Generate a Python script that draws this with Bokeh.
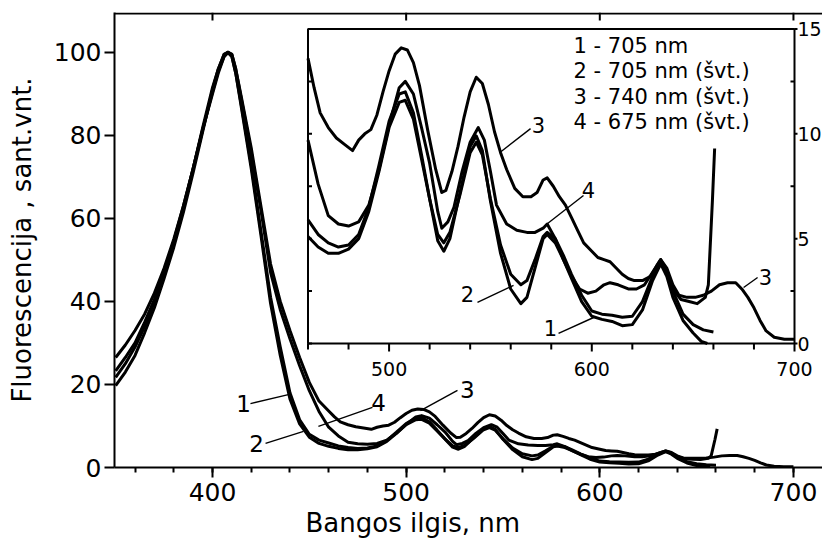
from bokeh.plotting import figure
from bokeh.models import Range1d, FixedTicker, Title
from bokeh.core.properties import value
from bokeh.embed import file_html
from bokeh.resources import INLINE

# ---------------- data ----------------
wl_1 = [350, 355, 360, 365, 370, 375, 380, 385, 390, 395, 400, 403, 406, 408, 410, 412, 415, 420, 425, 430, 435, 440, 445, 450, 455,
        460, 465, 470, 475, 480, 485, 490, 495, 500, 505, 508, 512, 516, 520, 524, 527, 530, 535, 540, 543, 546, 550, 555, 560, 565,
        568, 572, 576, 578, 582, 586, 590, 595, 600, 605, 610, 615, 620, 625, 630, 634, 637, 640, 645, 650, 654, 657]
fl_1 = [21.7, 25, 29, 34, 40, 46.5, 54, 62.5, 72, 82, 91.5, 96, 99.5, 100, 99, 95, 87, 73, 57, 41, 29, 18, 11.5, 8, 6.6,
        5.9, 5.2, 4.8, 4.6, 4.7, 5.2, 6.5, 8.5, 10.6, 11.9, 12.0, 11.0, 9.0, 6.9, 4.9, 4.4, 5.0, 7.2, 9.4, 9.9, 9.2, 6.8, 4.3, 2.6, 1.9,
        2.2, 3.6, 5.0, 5.2, 4.8, 4.0, 3.1, 2.0, 1.3, 1.15, 1.05, 0.85, 0.9, 1.6, 3.0, 3.8, 3.2, 2.2, 1.1, 0.5, 0.1, 0.0]

wl_2 = [350, 355, 360, 365, 370, 375, 380, 385, 390, 395, 400, 403, 406, 408, 410, 412, 415, 420, 425, 430, 435, 440, 445, 450, 455,
        460, 465, 470, 475, 480, 485, 490, 495, 500, 505, 508, 512, 516, 520, 524, 527, 530, 535, 540, 543, 546, 550, 555, 560, 565,
        568, 572, 576, 578, 582, 586, 590, 595, 600, 605, 610, 615, 620, 625, 630, 634, 637, 640, 645, 650, 655, 660]
fl_2 = [19.7, 23, 27, 32.5, 38.5, 45.5, 53, 61.5, 71, 81, 91, 96, 99.5, 100, 99, 95, 86.5, 72, 56, 39.5, 27, 16.5, 10.5, 7.3, 5.8,
        5.1, 4.6, 4.3, 4.3, 4.5, 5.0, 6.3, 8.2, 10.3, 11.5, 11.6, 10.7, 8.8, 6.9, 5.2, 4.8, 5.3, 7.1, 9.1, 9.6, 9.0, 6.9, 4.7, 3.3, 2.8,
        3.0, 4.0, 5.1, 5.3, 5.0, 4.2, 3.3, 2.3, 1.55, 1.4, 1.35, 1.25, 1.3, 2.0, 3.2, 3.9, 3.4, 2.5, 1.4, 0.9, 0.65, 0.55]

wl_3 = [350, 355, 360, 365, 370, 375, 380, 385, 390, 395, 400, 403, 406, 408, 410, 412, 415, 420, 425, 430, 435, 440, 445, 450, 455,
        460, 463, 466, 470, 474, 478, 482, 485, 488, 491, 494, 497, 500, 503, 506, 509, 512, 515, 519, 523, 526, 528, 531, 534, 537,
        540, 543, 546, 549, 552, 555, 558, 562, 566, 570, 573, 576, 578, 581, 584, 587, 590, 593, 596, 600, 603, 606, 609, 612, 615,
        618, 621, 625, 629, 632, 634, 637, 640, 643, 647, 651, 655, 659, 663, 667, 671, 674, 677, 680, 683, 686, 690, 695, 700]
fl_3 = [26.5, 29.5, 33, 37, 42, 48, 55, 63, 72, 81.5, 90, 95, 99, 100, 99.5, 96, 89, 77, 63, 49, 40, 33, 26.5, 20.5, 16,
        13.6, 12.2, 11.0, 10.3, 9.8, 9.5, 9.2, 9.7, 10.0, 10.2, 10.9, 12.0, 13.0, 13.8, 14.1, 14.0, 13.4, 12.3, 10.2, 8.3, 7.2, 7.3, 8.2, 9.4, 10.8,
        12.0, 12.7, 12.4, 11.4, 10.1, 9.1, 8.3, 7.4, 7.0, 7.0, 7.2, 7.8, 7.9, 7.5, 7.0, 6.6, 6.0, 5.4, 4.8, 4.4, 4.1, 4.0, 3.9, 3.6, 3.3,
        3.1, 3.0, 3.0, 3.2, 3.7, 4.0, 3.6, 2.8, 2.3, 2.2, 2.2, 2.3, 2.5, 2.8, 2.9, 2.9, 2.6, 2.2, 1.7, 1.1, 0.6, 0.3, 0.2, 0.2]

wl_4 = [350, 355, 360, 365, 370, 375, 380, 385, 390, 395, 400, 403, 406, 408, 410, 412, 415, 420, 425, 430, 435, 440, 445, 450, 455,
        460, 465, 470, 475, 480, 485, 490, 495, 500, 505, 508, 512, 516, 520, 524, 526, 529, 532, 536, 540, 544, 547, 550, 553, 558,
        563, 568, 572, 576, 578, 582, 586, 590, 594, 598, 602, 606, 609, 613, 618, 622, 626, 630, 634, 637, 640, 644, 648, 652, 656,
        657.5, 659.5, 660.6]
fl_4 = [23.3, 26.5, 30, 35, 40.5, 47, 54.5, 63, 72, 81.5, 90.5, 95.5, 99, 100, 99.5, 96, 88.5, 76, 62, 47, 38, 31, 24.5, 18.5, 13.5,
        9.7, 7.6, 6.1, 5.7, 5.6, 5.8, 6.6, 8.3, 10.4, 12.2, 12.5, 11.9, 10.3, 8.6, 6.3, 5.5, 5.8, 6.5, 8.2, 9.6, 10.3, 9.7, 8.2, 6.6, 5.7,
        5.4, 5.3, 5.3, 5.5, 5.7, 5.0, 4.0, 3.2, 2.6, 2.4, 2.5, 2.8, 2.9, 2.8, 2.6, 2.6, 2.8, 3.4, 4.0, 3.5, 2.6, 2.1, 2.0, 1.9, 2.2,
        2.8, 6.8, 9.3]

curves = [(wl_1, fl_1), (wl_2, fl_2), (wl_3, fl_3), (wl_4, fl_4)]

legend_lines = ["1 - 705 nm", "2 - 705 nm (švt.)", "3 - 740 nm (švt.)", "4 - 675 nm (švt.)"]

main_xticks = [400, 500, 600, 700]
main_xminor = list(range(360, 711, 20))
main_yticks = [0, 20, 40, 60, 80, 100]

inset_xticks = list(range(460, 701, 20))
inset_xlabels = [500, 600, 700]
inset_yticks = [0, 2.5, 5, 7.5, 10, 12.5, 15]
inset_ylabels = [0, 5, 10, 15]

# curve labels: (text, label x, label y, leader x0, y0, x1, y1)
main_marks = [("1", 416.0, 15.4, 419.6, 15.4, 439.7, 17.6),
              ("2", 422.7, 5.8, 427.4, 5.8, 447.0, 8.7),
              ("4", 485.7, 15.7, 482.6, 14.5, 454.7, 9.9),
              ("3", 531.6, 18.8, 526.5, 18.6, 507.4, 13.7)]
inset_marks = [("3", 573.7, 10.4, 569.8, 10.25, 554.5, 9.1),
               ("4", 598.4, 7.3, 595.9, 7.06, 578.2, 5.72),
               ("2", 538.7, 2.38, 543.6, 1.96, 561.4, 2.77),
               ("1", 579.6, 0.76, 583.6, 0.48, 600.9, 1.24),
               ("3", 685.7, 3.15, 681.8, 3.15, 674.9, 2.67)]

# ---------------- layout (canvas pixels) ----------------
W, H = 822, 553
FL, FR, FT, FB = 114, 822, 12, 467          # main frame
IL, IR, IT, IB = 307.5, 794.0, 28.5, 343.0  # inset box
IX0, IX1, IY0, IY1 = 460, 700, 0, 15        # inset data window
XR = (349.4, 715.0)
YR = (0, 109.6)
FONT = "DejaVu Sans"
LW = 3.0

p = figure(width=W, height=H, x_range=Range1d(*XR), y_range=Range1d(*YR),
           output_backend="svg", toolbar_location=None,
           min_border_left=FL, min_border_right=W - FR, min_border_top=FT, min_border_bottom=H - FB)
p.title.visible = False
p.outline_line_color = None
p.grid.visible = False
p.background_fill_color = "white"
p.border_fill_color = "white"

# main axes
xa = p.xaxis[0]
xa.ticker = FixedTicker(ticks=main_xticks, minor_ticks=main_xminor)
ya = p.yaxis[0]
ya.ticker = FixedTicker(ticks=main_yticks, minor_ticks=[])
for ax in (xa, ya):
    ax.axis_line_width = 2
    ax.axis_line_color = "black"
    ax.major_tick_line_width = 2
    ax.minor_tick_line_width = 2
    ax.major_tick_line_color = "black"
    ax.minor_tick_line_color = "black"
    ax.major_tick_in = 0
    ax.major_tick_out = 10
    ax.minor_tick_in = 0
    ax.minor_tick_out = 5
    ax.major_label_text_font = FONT
    ax.major_label_text_font_size = "25px"
    ax.major_label_text_color = "black"
ya.minor_tick_out = 0
xa.major_label_standoff = 5
ya.major_label_standoff = 3
ya.axis_label = "Fluorescencija , sant.vnt."
ya.axis_label_text_font = FONT
ya.axis_label_text_font_size = "26px"
ya.axis_label_text_font_style = "normal"
ya.axis_label_text_color = "black"
ya.axis_label_standoff = 14

xtitle = Title(text="Bangos ilgis, nm", align="left", offset=191, standoff=5,
               text_font=FONT, text_font_size="26px", text_font_style="normal", text_color="black")
p.add_layout(xtitle, "below")

# top frame line with inward ticks
pxy = (YR[1] - YR[0]) / (FB - FT)
p.segment(x0=[XR[0]], y0=[YR[1] - pxy], x1=[XR[1]], y1=[YR[1] - pxy], line_color="black", line_width=2)
p.segment(x0=main_xticks, y0=[YR[1]] * 4, x1=main_xticks, y1=[YR[1] - 8 * pxy] * 4,
          line_color="black", line_width=2)

# main curves
for wl, fl in curves:
    p.line(wl, fl, line_color="black", line_width=LW, line_join="round")

for t, lx, ly, x0, y0, x1, y1 in main_marks:
    p.segment(x0=[x0], y0=[y0], x1=[x1], y1=[y1], line_color="black", line_width=1.4)
    p.text(x=[lx], y=[ly], text=[t], text_font=value(FONT), text_font_size="23px",
           text_align="center", text_baseline="middle", text_color="black")

# ---------------- inset (drawn through extra ranges) ----------------
sx = (IX1 - IX0) / (IR - IL)   # data units per px
sy = (IY1 - IY0) / (IB - IT)
p.extra_x_ranges = {"ix": Range1d(IX0 - (IL - FL) * sx, IX1 + (FR - IR) * sx)}
p.extra_y_ranges = {"iy": Range1d(IY0 - (FB - IB) * sy, IY1 + (IT - FT) * sy)}
kw = dict(x_range_name="ix", y_range_name="iy")

p.quad(left=[IX0], right=[IX1], bottom=[IY0], top=[IY1], fill_color="white",
       line_color="black", line_width=2, **kw)

for wl, fl in curves:
    xs = [w for w in wl if w >= IX0]
    ys = [f for w, f in zip(wl, fl) if w >= IX0]
    p.line(xs, ys, line_color="black", line_width=LW, line_join="round", **kw)

# inset ticks
bx0, by0, bx1, by1 = [], [], [], []
for t in inset_xticks:
    L = 8 if t in inset_xlabels else 6
    bx0.append(t); bx1.append(t); by0.append(IY0); by1.append(IY0 - L * sy)
for t in inset_yticks:
    bx0.append(IX0); bx1.append(IX0 + 4 * sx); by0.append(t); by1.append(t)
    if t in inset_ylabels:
        bx0.append(IX1); bx1.append(IX1 + 3 * sx)
    else:
        bx0.append(IX1); bx1.append(IX1 - 4 * sx)
    by0.append(t); by1.append(t)
p.segment(x0=bx0, y0=by0, x1=bx1, y1=by1, line_color="black", line_width=2, **kw)

p.text(x=inset_xlabels, y=[IY0 - 25 * sy] * len(inset_xlabels), text=[str(v) for v in inset_xlabels],
       text_font=value(FONT), text_font_size="19px", text_align="center", text_baseline="middle",
       text_color="black", **kw)
p.text(x=[IX1 + 3 * sx] * len(inset_ylabels), y=inset_ylabels, text=[str(v) for v in inset_ylabels],
       text_font=value(FONT), text_font_size="19px", text_align="left", text_baseline="middle",
       text_color="black", **kw)

# legend text
leg_x = IX0 + (573 - IL) * sx
leg_y = [IY1 - (45 - IT) * sy - i * 25.5 * sy for i in range(len(legend_lines))]
p.text(x=[leg_x] * len(legend_lines), y=leg_y, text=legend_lines, text_font=value(FONT),
       text_font_size="21px", text_align="left", text_baseline="middle", text_color="black", **kw)

for t, lx, ly, x0, y0, x1, y1 in inset_marks:
    p.segment(x0=[x0], y0=[y0], x1=[x1], y1=[y1], line_color="black", line_width=1.4, **kw)
    p.text(x=[lx], y=[ly], text=[t], text_font=value(FONT), text_font_size="21px",
           text_align="center", text_baseline="middle", text_color="black", **kw)

open("out.html", "w").write(file_html(p, INLINE))
